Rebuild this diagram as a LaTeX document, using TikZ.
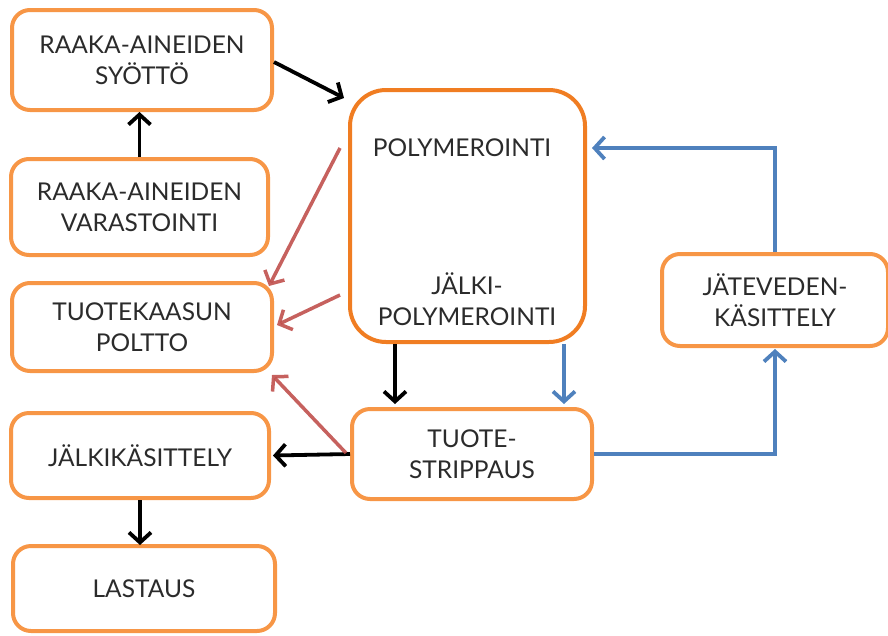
\documentclass[tikz,border=0pt]{standalone}
\usepackage{fontspec}
\setmainfont{Lato}
\usetikzlibrary{arrows.meta,calc}
\definecolor{boxor}{HTML}{F79646}
\definecolor{bigor}{HTML}{F07D22}
\definecolor{txtg}{HTML}{2B2B2B}
\definecolor{redar}{HTML}{C0504D}
\definecolor{bluar}{HTML}{4F81BD}
\tikzset{
  box/.style={draw=boxor, line width=4pt, rounded corners=18pt, fill=white,
    inner sep=0pt, text=txtg, align=center, font=\fontsize{24.5}{31}\selectfont},
  txt/.style={inner sep=0pt, text=txtg, align=center, font=\fontsize{24.5}{31}\selectfont},
  tip/.style={-{Straight Barb[length=10pt,width=22pt]}},
  blk/.style={tip, line width=3.8pt, draw=black},
  redc/.style={tip, line width=3.5pt, draw=redar, draw opacity=0.9},
  bluc/.style={tip, line width=3.8pt, draw=bluar},
}
\begin{document}
\begin{tikzpicture}[x=1pt,y=-1pt]
\useasboundingbox (0,0) rectangle (888,635);
\node[box, minimum width=260pt, minimum height=100pt] (b1) at (142,60) {RAAKA-AINEIDEN\\SYÖTTÖ};
\node[box, minimum width=257pt, minimum height=96pt] (b2) at (139.5,207) {RAAKA-AINEIDEN\\VARASTOINTI};
\node[box, minimum width=260pt, minimum height=88pt] (b3) at (142,327) {TUOTEKAASUN\\POLTTO};
\node[box, minimum width=258pt, minimum height=85pt] (b4) at (140,455.5) {JÄLKIKÄSITTELY};
\node[box, minimum width=262pt, minimum height=85pt] (b5) at (144,588.5) {LASTAUS};
\node[box, draw=bigor, rounded corners=36pt, minimum width=235pt, minimum height=252pt] (big) at (467.5,216) {};
\node[txt] (poly) at (462,148) {POLYMEROINTI};
\node[txt] (jpoly) at (467,299) {JÄLKI-\\POLYMEROINTI};
\node[box, minimum width=240pt, minimum height=90pt] (b7) at (472,454) {TUOTE-\\STRIPPAUS};
\node[box, minimum width=226pt, minimum height=92pt] (b8) at (775,300) {JÄTEVEDEN-\\KÄSITTELY};

% black connectors
\draw[blk] (b2.north) -- (b2.north |- b1.south);
\draw[blk] ([yshift=-2pt]b1.east) -- ($(big.north west)+(-4,10)$);
\draw[blk] ($(big.south west)+(47,0)$) -- ($(b7.north west)+(45,-3)$);
\draw[blk] (b7.west) -- ([xshift=2pt]b4.east);
\draw[blk] (b4.south) -- ([yshift=-1pt]b4.south |- b5.north);

% red connectors
\draw[redc] ($(big.north west)+(-8,60)$) -- ($(b3.north east)+(-5,5)$);
\draw[redc] ($(big.north west)+(-8,207)$) -- ([xshift=3pt,yshift=2pt]b3.east);
\draw[redc] ($(b7.west)+(-4,-1)$) -- ($(b3.south east)+(-2,2)$);

% blue connectors
\draw[bluc] ($(big.south east)+(-23,0)$) -- ($(b7.north east)+(-30,-3)$);
\draw[bluc, rounded corners=0pt] (b7.east) -| ([yshift=-1pt]b8.south);
\draw[bluc] (b8.north) |- ([yshift=68pt,xshift=5pt]big.east);
\end{tikzpicture}
\end{document}
